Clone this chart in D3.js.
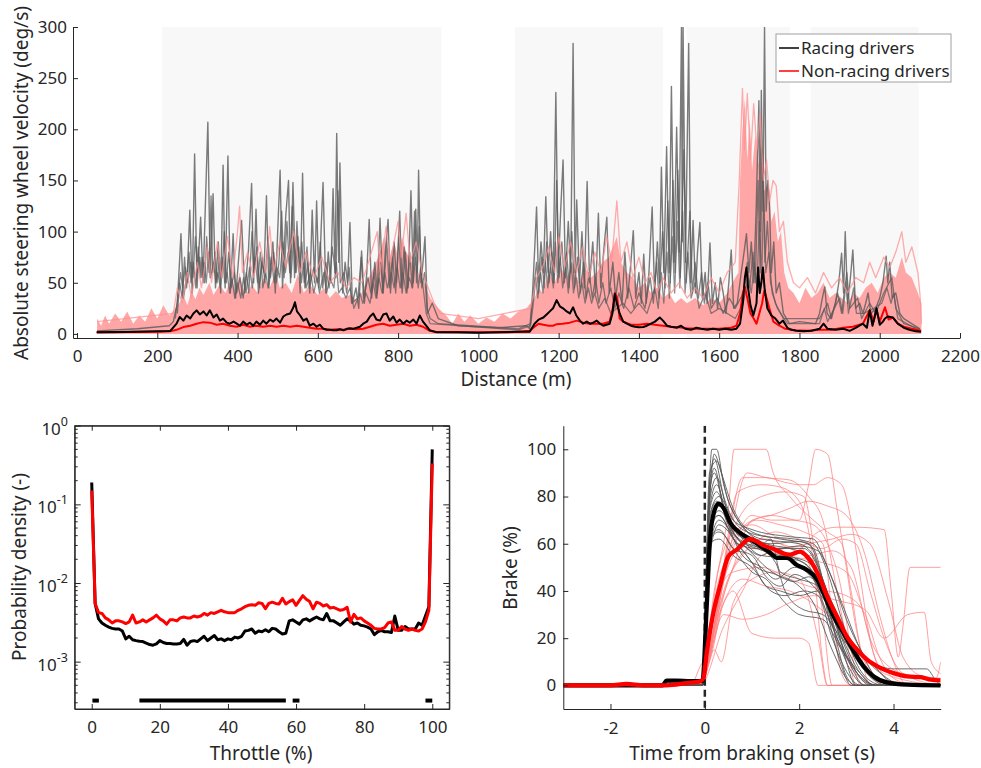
<!DOCTYPE html>
<html>
<head>
<meta charset="utf-8">
<script src="https://cdn.jsdelivr.net/npm/d3@7"></script>
<style>
  body { margin: 0; background: #fff; }
  svg text { font-family: "Noto Sans", sans-serif; fill: #262626; }
</style>
</head>
<body>
<svg id="chart" width="981" height="768"></svg>
<script>
// ---------------- data: top panel (steering wheel velocity vs distance) ----------------
var distTicks = [0, 200, 400, 600, 800, 1000, 1200, 1400, 1600, 1800, 2000, 2200];
var velTicks = [0, 50, 100, 150, 200, 250, 300];
var shadedZones = [[212, 908], [1091, 1460], [1519, 1776], [1828, 2097]];

var racingMean = [[49,1.5],[100,1.8],[150,2.2],[200,2.5],[232,2.8],[248,10],[256,16.5],[265,13],[273,18],[282,15],[290,20],[298,23],[306,19],[315,22],[323,18],[331,23],[340,16],[348,19],[356,13],[364,15],[373,11],[381,10],[390,12],[398,10],[406,8],[414,12],[423,9],[431,11],[439,8],[447,12],[456,9],[464,13],[472,10],[481,14],[489,12],[497,15],[506,11],[514,17],[522,19],[531,20],[538,25],[543,31],[548,22],[556,18],[564,13],[572,15],[580,8],[589,10],[597,7],[605,9],[614,5],[622,4],[630,4],[638,3.5],[647,3.5],[655,4.5],[664,3.5],[672,5],[680,5.5],[689,5],[697,6],[705,7],[713,10],[722,12],[730,17],[738,20],[746,14],[755,13],[763,19],[771,20],[779,13],[788,17],[796,11],[804,14],[813,10],[821,13],[829,11],[838,14],[846,10],[854,18],[862,12],[870,8],[879,3.5],[896,1.5],[950,1.5],[1000,1.2],[1050,1.5],[1090,2],
  [1128,2],[1140,10],[1150,14],[1162,16],[1170,19],[1178,22],[1186,25],[1195,33],[1203,27],[1211,25],[1220,22],[1228,20],[1236,26],[1244,18],[1253,13],[1261,10],[1270,12],[1278,10],[1286,11],[1295,13],[1303,10],[1311,8],[1319,9],[1327,10],[1334,20],[1340,39],[1345,30],[1352,20],[1361,12],[1370,10],[1380,8],[1390,7],[1400,6.5],[1411,6.7],[1420,8],[1430,10],[1440,12],[1452,16],[1460,13],[1470,8],[1480,7],[1494,6],[1505,8],[1515,5],[1530,4],[1543,6],[1555,5],[1570,4],[1585,5],[1600,4],[1615,5],[1630,4],[1643,5],[1652,10],[1659,30],[1664,55],[1668,65],[1672,45],[1678,28],[1685,18],[1693,30],[1697,65],[1701,40],[1705,50],[1709,65],[1713,45],[1720,25],[1730,18],[1740,15],[1750,10],[1759,13],[1770,6],[1780,4],[1792,3],[1810,2.5],[1830,3],[1850,5],[1860,10],[1870,5],[1890,4],[1909,5],[1925,3],[1940,6],[1958,10],[1968,6],[1975,23],[1982,8],[1992,25],[2000,9],[2008,12],[2013,15],[2020,17],[2033,16],[2045,10],[2060,6],[2074,4],[2090,2.5],[2103,2]];

var nonRacingMean = [[49,1.5],[100,1.5],[150,2],[200,2],[232,2.5],[248,4],[265,6.7],[282,8],[298,10],[315,11.5],[331,11],[348,9],[364,10],[381,8],[398,7],[414,9],[431,7],[447,8],[464,7],[481,8],[497,7],[514,8],[531,7],[548,8],[564,7],[580,6],[597,5],[614,5],[630,4],[647,4.5],[664,4],[680,5],[697,4.5],[713,5],[730,7],[746,9],[763,10],[779,8],[796,9],[813,10],[829,8],[846,9],[862,7],[879,3],[896,1.8],[950,1.5],[1000,1.5],[1050,1.5],[1090,1.8],
  [1128,3],[1140,7],[1150,10],[1162,9],[1175,8],[1186,8],[1195,9.5],[1210,10],[1228,11],[1245,13],[1261,11],[1278,10],[1295,10],[1311,10],[1327,12],[1335,25],[1340,40],[1346,35],[1352,15],[1361,12],[1380,9],[1400,9],[1420,10],[1440,9],[1460,8],[1480,7],[1500,6.5],[1520,5.5],[1543,5],[1570,5],[1600,5],[1630,6],[1643,8],[1652,20],[1659,40],[1664,46],[1670,35],[1678,20],[1686,15],[1693,10],[1700,20],[1707,30],[1712,42],[1718,35],[1725,25],[1735,12],[1750,8],[1765,5],[1790,3.5],[1820,3],[1850,4],[1880,4],[1909,6],[1933,7],[1958,10],[1975,23],[1985,12],[1992,23],[2000,12],[2013,26],[2022,14],[2033,16],[2045,10],[2060,7],[2080,5],[2103,3]];

// individual racing drivers, peaks and troughs
var racingPeaksA = [[50,3],[150,5],[230,8],[240,12],[250,30],[259,98],[265,35],[275,60],[281,121],[287,40],[293,176],[299,45],[308,114],[314,50],[326,207],[332,55],[339,137],[345,45],[352,90],[358,40],[364,165],[369,45],[376,174],[382,40],[389,98],[395,35],[402,70],[410,111],[418,40],[427,80],[435,147],[440,50],[446,122],[452,40],[460,70],[466,60],[472,135],[478,45],[488,90],[494,40],[500,100],[506,160],[512,45],[520,115],[527,150],[532,50],[538,148],[544,60],[550,95],[556,40],[562,157],[568,45],[575,70],[580,40],[586,121],[592,50],[597,130],[603,45],[608,100],[613,148],[620,40],[626,80],[632,50],[638,142],[643,60],[647,196],[652,70],[655,167],[662,40],[668,70],[674,50],[680,109],[686,30],[695,45],[702,25],[709,81],[716,30],[722,60],[728,112],[734,35],[742,70],[748,40],[755,113],[762,40],[768,80],[775,112],[781,40],[790,90],[796,50],[804,120],[810,40],[818,80],[825,45],[832,140],[838,50],[844,122],[848,60],[851,160],[857,50],[862,70],[867,95],[873,20],[885,30],[900,15],[950,8],[1050,6],[1120,8],
  [1128,5],[1135,40],[1140,80],[1145,124],[1150,50],[1156,90],[1162,60],[1168,134],[1174,60],[1180,100],[1186,50],[1193,236],[1199,60],[1205,120],[1211,170],[1217,55],[1224,110],[1230,60],[1236,284],[1241,60],[1245,131],[1252,50],[1258,100],[1264,45],[1271,149],[1277,50],[1285,90],[1292,40],[1299,118],[1305,45],[1312,80],[1320,114],[1326,40],[1335,70],[1342,35],[1350,60],[1358,30],[1365,80],[1372,35],[1380,70],[1386,101],[1392,35],[1400,60],[1406,30],[1412,78],[1418,30],[1425,60],[1433,124],[1439,40],[1446,90],[1451,50],[1456,163],[1462,60],[1469,183],[1475,60],[1481,242],[1487,70],[1494,202],[1500,80],[1506,300],[1508,90],[1510,300],[1516,70],[1524,284],[1529,50],[1535,111],[1541,40],[1546,80],[1552,109],[1558,35],[1565,60],[1570,30],[1577,89],[1583,30],[1590,50],[1596,25],[1603,55],[1610,40],[1617,20],[1624,50],[1630,82],[1636,25],[1645,30],
  [1655,60],[1662,80],[1668,98],[1674,60],[1680,90],[1686,50],[1692,120],[1699,228],[1702,100],[1705,238],[1709,120],[1713,300],[1717,120],[1721,150],[1725,131],[1730,60],[1736,90],[1742,40],[1750,50],[1760,20],[1775,10],[1800,12],[1840,10],
  [1850,20],[1857,35],[1863,46],[1869,20],[1878,15],[1890,30],[1898,50],[1905,79],[1910,40],[1914,100],[1920,30],[1927,55],[1933,82],[1940,25],[1950,30],[1958,20],[1965,30],[1971,40],[1978,20],[1990,25],[2000,35],[2008,50],[2016,76],[2020,50],[2025,70],[2031,35],[2040,40],[2050,20],[2060,15],[2100,5]];

var racingPeaksB = [[250,20],[256,50],[262,35],[268,75],[273,45],[279,80],[284,50],[290,70],[296,45],[302,85],[307,55],[312,75],[318,50],[323,95],[329,60],[334,135],[338,60],[344,80],[349,50],[355,75],[361,55],[367,100],[372,50],[378,80],[384,45],[392,60],[398,40],[406,55],[414,35],[422,60],[428,40],[436,100],[441,60],[448,85],[455,45],[462,75],[468,50],[476,95],[482,55],[490,80],[497,50],[503,70],[510,120],[516,55],[523,110],[530,60],[536,125],[542,55],[548,110],[554,60],[560,90],[566,50],[573,85],[579,45],[590,65],[600,50],[606,90],[612,45],[620,70],[628,45],[636,85],[645,55],[650,140],[656,50],[665,60],[672,40],[678,65],[684,30],[700,35],[708,75],[714,35],[725,55],[732,40],[740,60],[747,35],[756,70],[763,40],[772,90],[778,45],[786,75],[794,40],[802,95],[808,45],[815,85],[822,40],[829,80],[835,45],[841,120],[846,50],[853,105],[859,45],[866,60],[872,25],[880,15],[900,10],[1100,5],
  [1130,10],[1138,45],[1145,70],[1150,40],[1158,75],[1164,45],[1170,90],[1176,50],[1183,80],[1189,50],[1195,150],[1201,55],[1208,90],[1214,50],[1220,80],[1226,45],[1233,100],[1239,45],[1247,75],[1254,40],[1262,70],[1268,35],[1276,60],[1284,35],[1292,55],[1300,30],[1310,50],[1318,30],[1330,45],[1340,25],[1350,40],[1362,25],[1375,45],[1388,25],[1400,40],[1415,25],[1428,55],[1436,30],[1444,70],[1450,35],[1459,100],[1465,45],[1472,130],[1478,50],[1485,150],[1490,60],[1497,160],[1503,55],[1512,180],[1518,50],[1527,120],[1533,40],[1540,70],[1548,35],[1556,60],[1563,30],[1572,50],[1580,25],[1595,35],[1610,20],[1625,35],[1640,25],
  [1660,40],[1670,70],[1676,45],[1684,80],[1690,50],[1697,150],[1702,60],[1708,180],[1714,70],[1720,110],[1728,50],[1740,30],[1760,15],[1850,15],[1870,30],[1880,15],[1895,40],[1905,20],[1918,60],[1925,25],[1945,35],[1955,15],[1975,30],[1990,20],[2010,40],[2030,55],[2040,25],[2060,10],[2100,5]];

var racingPeaksC = [[245,15],[252,40],[258,60],[263,45],[270,65],[276,50],[283,70],[289,55],[295,95],[301,60],[306,75],[311,55],[317,70],[322,50],[328,80],[333,55],[340,70],[346,50],[351,60],[357,45],[363,75],[368,50],[374,60],[380,40],[386,55],[393,35],[400,50],[408,35],[415,55],[421,40],[430,65],[437,45],[443,75],[450,50],[457,80],[463,45],[470,60],[476,45],[484,75],[491,50],[498,65],[505,55],[513,90],[519,60],[526,80],[533,55],[540,95],[546,60],[553,85],[559,50],[565,70],[571,45],[582,60],[590,40],[598,55],[604,40],[615,60],[622,40],[630,55],[640,45],[646,70],[652,40],[660,45],[670,35],[680,45],[690,25],[705,40],[712,30],[720,40],[730,30],[738,50],[745,35],[752,55],[760,40],[767,60],[773,45],[783,60],[790,45],[798,65],[805,45],[812,60],[820,40],[828,55],[836,45],[843,75],[850,45],[856,65],[864,40],[870,20],[880,10],[1100,4],
  [1130,8],[1137,30],[1143,55],[1148,35],[1155,60],[1161,40],[1167,70],[1173,45],[1180,65],[1187,45],[1192,90],[1198,50],[1204,75],[1210,45],[1218,65],[1224,40],[1231,70],[1237,40],[1244,55],[1250,35],[1258,50],[1266,30],[1274,45],[1282,30],[1290,40],[1300,25],[1315,35],[1330,20],[1360,30],[1380,20],[1400,30],[1420,20],[1440,45],[1448,25],[1456,60],[1462,30],[1470,80],[1476,35],[1483,95],[1489,40],[1496,110],[1502,45],[1509,120],[1515,40],[1522,80],[1530,35],[1540,50],[1550,25],[1565,40],[1580,20],[1600,25],[1640,15],
  [1660,30],[1672,55],[1680,40],[1688,70],[1694,45],[1700,110],[1706,55],[1711,140],[1716,60],[1724,80],[1732,40],[1745,25],[1770,10],[1850,10],[1862,25],[1870,12],[1900,35],[1908,20],[1916,50],[1922,20],[1935,45],[1942,20],[1960,20],[1985,25],[2005,30],[2018,45],[2028,30],[2035,40],[2045,15],[2100,3]];

// non-racing drivers: dense band (upper edge) and the spikes that stick out of it
var nonRacingBand = [[50,15],[60,8],[70,18],[80,10],[95,20],[110,12],[125,22],[140,10],[155,18],[170,12],[185,25],[200,15],[215,28],[230,18],[245,25],[255,30],[265,38],[275,28],[285,42],[295,34],[305,45],[315,38],[330,50],[340,38],[355,48],[370,40],[385,55],[395,40],[405,60],[412,45],[420,38],[435,48],[450,40],[465,55],[480,45],[495,60],[505,45],[520,50],[535,40],[550,58],[565,40],[580,48],[600,38],[615,45],[630,35],[645,42],[660,35],[680,38],[700,32],[720,50],[740,65],[755,80],[765,95],[775,70],[790,90],[800,75],[810,95],[820,80],[835,70],[850,60],[865,50],[880,35],[900,25],[920,18],[935,10],[950,20],[965,12],[980,18],[1000,10],[1020,16],[1040,12],[1060,20],[1080,15],[1100,22],[1120,25],[1140,35],[1150,45],[1160,40],[1175,60],[1190,50],[1205,65],[1220,55],[1235,70],[1250,50],[1265,65],[1280,55],[1295,60],[1310,70],[1325,75],[1335,85],[1345,95],[1355,70],[1370,60],[1385,55],[1400,45],[1415,50],[1430,40],[1445,45],[1460,35],[1475,40],[1490,30],[1505,35],[1520,30],[1540,35],[1560,28],[1580,35],[1600,30],[1620,40],[1640,55],[1648,60],[1652,150],[1658,200],[1664,230],[1670,170],[1676,210],[1682,160],[1690,195],[1698,165],[1706,190],[1714,140],[1722,150],[1730,110],[1738,120],[1746,90],[1754,100],[1762,60],[1772,45],[1785,40],[1800,30],[1815,45],[1830,35],[1845,40],[1860,50],[1875,35],[1890,40],[1905,35],[1920,30],[1935,40],[1950,35],[1965,45],[1980,50],[1995,40],[2010,55],[2025,60],[2040,55],[2055,75],[2065,60],[2080,55],[2095,40],[2104,30]];

var nonRacingSpikes = [[50,12],[240,20],[250,45],[262,30],[275,60],[285,35],[300,70],[310,45],[325,85],[335,50],[350,90],[360,55],[375,95],[388,55],[400,100],[405,125],[412,60],[425,80],[440,55],[455,90],[470,60],[480,105],[490,60],[505,90],[520,65],[540,100],[555,60],[570,80],[590,55],[610,75],[630,50],[650,60],[670,45],[690,55],[710,50],[730,75],[748,100],[755,60],[770,105],[780,70],[800,110],[808,75],[820,118],[830,70],[845,90],[860,60],[875,45],[890,30],[905,20],[1000,15],[1130,25],[1145,55],[1160,65],[1175,85],[1190,60],[1200,95],[1215,65],[1230,90],[1245,60],[1260,85],[1275,55],[1290,80],[1305,60],[1320,95],[1332,70],[1345,130],[1355,70],[1370,90],[1385,55],[1400,75],[1415,50],[1430,60],[1445,40],[1460,55],[1480,40],[1500,50],[1520,35],[1540,45],[1560,35],[1580,55],[1600,40],[1620,60],[1640,70],[1650,150],[1658,240],[1663,180],[1670,235],[1678,170],[1686,225],[1694,180],[1702,215],[1710,150],[1718,170],[1726,130],[1734,150],[1742,145],[1750,100],[1760,110],[1770,70],[1785,50],[1800,45],[1820,55],[1840,40],[1860,60],[1880,45],[1900,55],[1920,40],[1940,55],[1960,50],[1975,70],[1990,55],[2010,75],[2025,65],[2040,80],[2055,100],[2065,70],[2080,85],[2095,60],[2100,40],[2104,10]];

var legendLabels = ["Racing drivers", "Non-racing drivers"];

// ---------------- data: bottom-left (throttle probability density) ----------------
var throttlePct = [0,1,2,3,4,5,6,7,8,9,10,11,12,13,14,15,16,17,18,19,20,21,22,23,24,25,26,27,28,29,30,31,32,33,34,35,36,37,38,39,40,41,42,43,44,45,46,47,48,49,50,51,52,53,54,55,56,57,58,59,60,61,62,63,64,65,66,67,68,69,70,71,72,73,74,75,76,77,78,79,80,81,82,83,84,85,86,87,88,89,90,91,92,93,94,95,96,97,98,99,100];
var densityRacing = [0.19,5.5e-3,3.5e-3,3.1e-3,2.9e-3,2.75e-3,2.65e-3,2.6e-3,2.6e-3,2.45e-3,1.95e-3,2.1e-3,1.9e-3,1.85e-3,1.82e-3,1.8e-3,1.72e-3,1.65e-3,1.62e-3,1.68e-3,1.85e-3,1.75e-3,1.7e-3,1.7e-3,1.68e-3,1.68e-3,1.7e-3,1.92e-3,1.62e-3,1.8e-3,1.85e-3,1.8e-3,1.95e-3,2.1e-3,1.85e-3,2.0e-3,2.15e-3,1.9e-3,1.95e-3,1.85e-3,1.95e-3,1.9e-3,2.05e-3,2.0e-3,2.1e-3,2.45e-3,2.5e-3,2.6e-3,2.3e-3,2.45e-3,2.4e-3,2.55e-3,2.4e-3,2.65e-3,2.6e-3,2.4e-3,2.25e-3,2.3e-3,3.3e-3,3.4e-3,3.2e-3,3.0e-3,3.4e-3,3.5e-3,3.3e-3,3.5e-3,3.7e-3,3.5e-3,3.4e-3,4.1e-3,3.3e-3,3.3e-3,3.1e-3,2.9e-3,3.2e-3,3.5e-3,3.3e-3,3.0e-3,3.1e-3,2.9e-3,2.85e-3,2.75e-3,2.6e-3,2.2e-3,2.4e-3,2.5e-3,2.4e-3,2.4e-3,2.35e-3,3.8e-3,2.5e-3,2.5e-3,2.8e-3,2.6e-3,2.6e-3,2.6e-3,3.1e-3,2.9e-3,3.8e-3,5.0e-3,0.5];
var densityNonRacing = [0.15,5.5e-3,4.2e-3,4.1e-3,3.6e-3,3.4e-3,3.1e-3,3.3e-3,3.3e-3,3.2e-3,3.05e-3,3.2e-3,3.9e-3,3.1e-3,3.2e-3,3.4e-3,3.2e-3,3.4e-3,3.6e-3,3.9e-3,3.5e-3,3.3e-3,3.0e-3,3.4e-3,3.4e-3,3.3e-3,3.6e-3,3.7e-3,3.6e-3,3.6e-3,3.8e-3,3.7e-3,3.8e-3,4.1e-3,3.9e-3,4.2e-3,4.1e-3,4.3e-3,4.5e-3,4.3e-3,4.2e-3,4.2e-3,4.2e-3,4.5e-3,4.7e-3,5.0e-3,5.2e-3,5.3e-3,5.2e-3,5.6e-3,5.5e-3,4.7e-3,5.5e-3,5.7e-3,5.5e-3,5.4e-3,6.4e-3,5.4e-3,5.8e-3,6.1e-3,5.2e-3,6.0e-3,6.9e-3,6.2e-3,5.8e-3,4.7e-3,5.7e-3,5.5e-3,5.1e-3,5.3e-3,4.8e-3,4.9e-3,4.7e-3,4.5e-3,4.6e-3,4.9e-3,3.2e-3,4.0e-3,3.5e-3,3.6e-3,3.3e-3,3.1e-3,2.9e-3,2.65e-3,2.6e-3,2.6e-3,2.7e-3,3.1e-3,3.2e-3,2.5e-3,2.5e-3,2.8e-3,2.6e-3,2.5e-3,2.6e-3,2.5e-3,2.45e-3,2.6e-3,3.2e-3,4.5e-3,0.33];
var throttleTicks = [0, 20, 40, 60, 80, 100];
var densityTicks = [1e-3, 1e-2, 1e-1, 1];
var significantRanges = [[0.2, 2.1], [14, 57], [59, 61], [98, 100]];
var significanceLevel = 3.2e-4;

// ---------------- data: bottom-right (brake vs time from onset) ----------------
var timeTicks = [-2, 0, 2, 4];
var brakeTicks = [0, 20, 40, 60, 80, 100];
var brakeMeanRacing = [[-3,0],[-0.9,0],[-0.81,2],[-0.6,2],[-0.3,1.8],[-0.05,1.8],[0.04,33.5],[0.11,62],[0.2,73.8],[0.29,77],[0.4,75],[0.54,68.9],[0.75,64.6],[0.96,62],[1.18,59],[1.39,56.1],[1.53,54],[1.74,54],[1.95,51],[2.16,49],[2.38,44.8],[2.52,39],[2.73,29.3],[2.94,22.2],[3.16,14.4],[3.37,8],[3.58,3.8],[3.86,1.3],[4.29,0.3],[5,0]];
var brakeMeanNonRacing = [[-3,0],[-2,0],[-1.66,0.6],[-1.3,0],[-0.81,0],[-0.38,1],[-0.1,1.7],[-0.03,3],[0.04,13.7],[0.18,30.7],[0.32,42],[0.5,54.7],[0.68,57.5],[0.86,61],[0.96,62],[1.1,61],[1.24,59.3],[1.46,57.8],[1.67,55.8],[1.81,55.4],[2.02,56.7],[2.16,54.7],[2.31,50.5],[2.45,44.8],[2.59,37.8],[2.8,29.3],[3.01,20.8],[3.23,15.1],[3.44,10.9],[3.72,7.4],[4.0,5.2],[4.29,3.8],[4.58,3.5],[4.79,2.4],[5,2.1]];
var brakeRacing = [
  [[-3,0],[-0.05,0],[0.05,60],[0.15,100],[0.25,100],[0.4,85],[0.7,70],[1.2,62],[2.0,60],[2.3,55],[2.7,30],[3.1,8],[3.4,0],[5,0]],
  [[-3,0],[-0.05,0],[0.08,70],[0.2,98],[0.35,90],[0.6,75],[1.0,65],[1.6,62],[2.2,60],[2.5,45],[2.9,20],[3.3,3],[3.5,0],[5,0]],
  [[-3,0],[-0.05,0],[0.1,80],[0.2,92],[0.45,70],[0.9,60],[1.4,58],[2.1,58],[2.4,50],[2.8,25],[3.0,10],[3.2,0],[5,0]],
  [[-3,0],[-0.05,0],[0.1,75],[0.25,85],[0.5,68],[0.8,55],[1.2,50],[1.5,45],[1.9,50],[2.3,45],[2.6,30],[3.0,12],[3.4,2],[3.7,0],[5,0]],
  [[-3,0],[-0.05,0],[0.1,65],[0.3,72],[0.6,62],[1.0,52],[1.3,42],[1.6,40],[2.0,38],[2.4,40],[2.8,25],[3.3,5],[3.6,0],[5,0]],
  [[-3,0],[-0.05,0],[0.1,70],[0.25,78],[0.6,66],[1.0,60],[1.5,52],[1.7,40],[2.1,32],[2.5,30],[2.9,20],[3.5,10],[4.0,7],[4.7,7],[4.9,2],[5,0]],
  [[-3,0],[-0.05,0],[0.1,55],[0.3,68],[0.7,60],[1.1,50],[1.5,47],[2.0,42],[2.3,35],[2.7,15],[3.0,3],[3.2,0],[5,0]],
  [[-3,0],[-0.05,0],[0.1,72],[0.3,80],[0.6,70],[1.0,66],[1.8,63],[2.3,62],[2.6,50],[3.0,30],[3.3,15],[3.7,2],[4.0,0],[5,0]],
  [[-3,0],[-0.05,0],[0.12,62],[0.3,65],[0.7,55],[1.0,48],[1.3,45],[1.7,35],[2.0,30],[2.5,28],[2.9,15],[3.3,5],[3.6,0],[5,0]],
  [[-3,0],[-0.05,0],[0.1,90],[0.25,95],[0.5,78],[0.9,65],[1.3,60],[1.8,58],[2.2,55],[2.5,40],[2.7,22],[2.9,8],[3.1,0],[5,0]],
  [[-3,0],[-0.8,0],[-0.7,2],[-0.05,2],[0.1,68],[0.3,72],[0.7,60],[1.1,58],[1.4,62],[1.6,48],[2.0,45],[2.4,42],[2.8,22],[3.2,6],[3.6,0],[5,0]],
  [[-3,0],[-0.05,0],[0.1,78],[0.25,88],[0.5,72],[0.8,62],[1.2,55],[1.7,54],[2.1,52],[2.4,45],[2.8,30],[3.2,12],[3.6,2],[3.9,0],[5,0]],
  [[-3,0],[-0.05,0],[0.1,60],[0.3,62],[0.6,55],[1.0,50],[1.4,40],[1.7,38],[2.1,40],[2.4,38],[2.7,20],[3.0,6],[3.3,0],[5,0]],
  [[-3,0],[-0.05,0],[0.1,82],[0.2,90],[0.4,75],[0.7,62],[1.1,58],[1.6,55],[2.1,53],[2.4,48],[2.7,35],[3.1,18],[3.6,8],[4.0,1],[5,0]],
  [[-3,0],[-0.05,0],[0.1,85],[0.2,96],[0.4,80],[0.8,66],[1.3,63],[1.9,62],[2.3,60],[2.6,48],[2.9,28],[3.2,10],[3.5,2],[3.8,0],[5,0]],
  [[-3,0],[-0.05,0],[0.1,58],[0.3,70],[0.6,64],[0.9,58],[1.2,55],[1.5,58],[1.8,55],[2.2,50],[2.5,42],[2.9,25],[3.3,10],[3.7,3],[4.1,0],[5,0]],
  [[-3,0],[-0.05,0],[0.1,66],[0.3,74],[0.7,62],[1.0,56],[1.3,50],[1.6,46],[1.9,44],[2.2,46],[2.5,38],[2.8,20],[3.1,6],[3.4,0],[5,0]],
  [[-3,0],[-0.05,0],[0.1,74],[0.25,82],[0.5,70],[0.9,62],[1.4,60],[2.0,61],[2.3,58],[2.55,40],[2.8,18],[3.0,4],[3.2,0],[5,0]],
  [[-3,0],[-0.05,0],[0.1,62],[0.3,66],[0.6,58],[1.0,55],[1.3,46],[1.6,42],[1.9,47],[2.2,44],[2.6,34],[3.0,18],[3.4,6],[3.8,1],[5,0]],
  [[-3,0],[-0.05,0],[0.12,68],[0.3,76],[0.7,64],[1.1,60],[1.5,58],[2.0,59],[2.4,57],[2.7,45],[3.0,28],[3.4,12],[3.8,4],[4.2,0],[5,0]]
];
var brakeNonRacing = [
  [[-3,0],[-0.1,0],[0.2,40],[0.5,75],[0.62,100],[1.3,100],[1.45,90],[1.8,80],[2.3,70],[2.6,65],[2.9,60],[3.1,40],[3.3,15],[3.5,0],[5,0]],
  [[-3,0],[-0.1,0],[0.3,45],[0.6,60],[1.0,72],[1.4,70],[2.0,70],[2.2,85],[2.35,100],[2.6,98],[2.8,75],[3.0,50],[3.2,25],[3.5,5],[3.8,0],[5,0]],
  [[-3,0],[-0.1,0],[0.4,50],[0.8,88],[1.3,88],[1.7,86],[2.0,85],[2.3,85],[2.6,88],[2.9,85],[3.1,70],[3.3,45],[3.5,20],[3.8,5],[5,0]],
  [[-3,0],[-0.3,0],[-0.1,8],[0.1,15],[0.4,40],[0.8,55],[1.2,62],[1.6,60],[2.0,58],[2.4,65],[2.8,67],[3.2,67],[3.8,66],[3.95,40],[4.1,12],[4.2,25],[4.35,50],[5,50]],
  [[-3,0],[-0.1,0],[0.3,30],[0.6,40],[1.0,22],[1.5,20],[2.0,20],[2.2,18],[2.4,0],[5,0]],
  [[-3,0],[-0.1,0],[0.2,15],[0.35,10],[0.6,35],[1.0,45],[1.5,48],[2.0,45],[2.4,20],[2.6,0],[5,0]],
  [[-3,0],[-0.1,0],[0.5,60],[0.9,90],[1.3,88],[1.8,87],[2.2,80],[2.5,70],[2.8,40],[3.0,20],[3.2,0],[5,0]],
  [[-3,0],[-0.1,0],[0.3,35],[0.7,70],[1.2,80],[1.7,82],[2.1,80],[2.3,60],[2.5,30],[2.7,0],[5,0]],
  [[-3,0],[-0.2,0],[0.2,20],[0.5,55],[1.0,60],[1.5,65],[2.0,62],[2.5,58],[2.9,62],[3.2,60],[3.5,40],[3.8,20],[4.2,5],[5,0]],
  [[-3,0],[-0.1,0],[0.3,40],[0.6,48],[1.2,50],[1.8,45],[2.2,42],[2.6,40],[3.0,38],[3.4,30],[3.7,12],[4.0,3],[4.5,0],[5,0]],
  [[-3,0],[-0.1,0],[0.2,25],[0.6,50],[1.0,70],[1.4,72],[1.8,75],[2.2,78],[2.6,76],[3.0,72],[3.4,55],[3.7,30],[4.0,10],[4.3,0],[5,0]],
  [[-3,0],[-0.1,0],[0.4,30],[0.8,28],[1.3,30],[1.8,35],[2.3,38],[2.8,36],[3.4,32],[3.8,20],[4.3,30],[4.65,31],[4.8,10],[5,5]],
  [[-3,0],[-0.1,0],[0.3,50],[0.6,65],[1.0,68],[1.5,63],[2.0,60],[2.4,40],[2.8,20],[3.2,5],[3.6,0],[5,0]],
  [[-3,0],[-0.1,0],[0.4,45],[0.8,60],[1.3,62],[1.8,58],[2.2,55],[2.7,57],[3.1,50],[3.5,20],[3.9,8],[4.4,4],[4.9,3],[5,10]],
  [[-3,0],[-0.1,0],[0.25,30],[0.5,52],[0.9,68],[1.4,72],[1.9,70],[2.3,68],[2.6,60],[2.9,40],[3.1,15],[3.3,0],[5,0]],
  [[-3,0],[-0.2,0],[0.1,10],[0.4,35],[0.8,45],[1.3,42],[1.8,40],[2.2,36],[2.6,30],[3.0,22],[3.4,10],[3.8,0],[5,0]],
  [[-3,0],[-0.1,0],[0.3,38],[0.7,82],[1.2,85],[1.6,84],[2.0,78],[2.3,52],[2.5,10],[2.6,0],[5,0]],
  [[-3,0],[-0.1,0],[0.2,20],[0.5,45],[1.0,58],[1.5,56],[2.0,54],[2.5,52],[3.0,48],[3.3,35],[3.6,12],[3.9,2],[5,0]],
  [[-3,0],[-0.1,0],[0.3,42],[0.6,62],[1.1,70],[1.6,68],[2.1,65],[2.5,60],[2.7,30],[2.9,5],[3.1,0],[5,0]],
  [[-3,0],[-0.1,0],[0.4,25],[0.8,40],[1.2,55],[1.7,58],[2.2,60],[2.7,62],[3.1,64],[3.5,60],[3.9,35],[4.2,12],[4.6,4],[5,3]]
];

// ---------------- drawing ----------------
var ink = "#262626";
var fontFamily = '"Noto Sans", sans-serif';
var svg = d3.select("#chart");
var plainNum = function(d) { return String(d); };

function styleAxis(g) {
  g.attr("font-family", fontFamily).attr("font-size", 17);
  g.select(".domain").attr("stroke", ink);
  g.selectAll(".tick line").attr("stroke", ink);
  g.selectAll(".tick text").attr("fill", ink);
}

function drawLine(g, data, x, y, color, width, opacity, curve) {
  var gen = d3.line().x(function(d) { return x(d[0]); }).y(function(d) { return y(d[1]); });
  if (curve) gen.curve(curve);
  g.append("path").datum(data)
    .attr("fill", "none")
    .attr("stroke", color)
    .attr("stroke-width", width)
    .attr("stroke-opacity", opacity)
    .attr("stroke-linejoin", "round")
    .attr("d", gen);
}

// ===== top panel =====
var xTop = d3.scaleLinear().domain([-10, 2200]).range([73, 960]);
var yTop = d3.scaleLinear().domain([-4, 300]).range([338, 27]);

svg.append("clipPath").attr("id", "clipTop")
  .append("rect").attr("x", 73).attr("y", 27).attr("width", 887).attr("height", 311);

var gTop = svg.append("g").attr("clip-path", "url(#clipTop)");

gTop.selectAll("rect.zone").data(shadedZones).enter().append("rect")
  .attr("class", "zone")
  .attr("x", function(d) { return xTop(d[0]); })
  .attr("width", function(d) { return xTop(d[1]) - xTop(d[0]); })
  .attr("y", yTop(300))
  .attr("height", yTop(-4) - yTop(300))
  .attr("fill", "#f8f8f8");

gTop.append("path").datum(nonRacingBand)
  .attr("fill", "#ff9d9d").attr("fill-opacity", 0.9)
  .attr("d", d3.area().x(function(d) { return xTop(d[0]); }).y0(yTop(0)).y1(function(d) { return yTop(d[1]); }));

drawLine(gTop, racingPeaksC, xTop, yTop, "#5a5a5a", 1.3, 0.7);
drawLine(gTop, racingPeaksB, xTop, yTop, "#5a5a5a", 1.3, 0.75);
drawLine(gTop, racingPeaksA, xTop, yTop, "#5a5a5a", 1.4, 0.8);

drawLine(gTop, nonRacingSpikes, xTop, yTop, "#ff9090", 1.3, 0.75);

drawLine(gTop, nonRacingMean, xTop, yTop, "#ff0000", 2, 1);
drawLine(gTop, racingMean, xTop, yTop, "#000000", 2, 1);

var gxTop = svg.append("g").attr("transform", "translate(0,338)")
  .call(d3.axisBottom(xTop).tickValues(distTicks).tickFormat(plainNum).tickSizeInner(-5).tickSizeOuter(0).tickPadding(12));
styleAxis(gxTop);
var gyTop = svg.append("g").attr("transform", "translate(73,0)")
  .call(d3.axisLeft(yTop).tickValues(velTicks).tickFormat(plainNum).tickSizeInner(-5).tickSizeOuter(0).tickPadding(6));
styleAxis(gyTop);

svg.append("text").attr("x", 516).attr("y", 386).attr("text-anchor", "middle")
  .style("font-size", "19px").text("Distance (m)");
svg.append("text").attr("transform", "translate(28,183) rotate(-90)").attr("text-anchor", "middle")
  .style("font-size", "19px").text("Absolute steering wheel velocity (deg/s)");

// legend
var legend = svg.append("g");
legend.append("rect").attr("x", 776).attr("y", 34).attr("width", 175).attr("height", 48)
  .attr("fill", "#fff").attr("stroke", "#a0a0a0").attr("stroke-width", 1);
[["#000000", 48], ["#ff0000", 71]].forEach(function(s, i) {
  legend.append("line").attr("x1", 779).attr("x2", 799).attr("y1", s[1]).attr("y2", s[1])
    .attr("stroke", s[0]).attr("stroke-width", 1.5);
  legend.append("text").attr("x", 801).attr("y", s[1] + 6).style("font-size", "17px").text(legendLabels[i]);
});

// ===== bottom-left panel =====
var xBL = d3.scaleLinear().domain([-5, 105]).range([74.7, 449.3]);
var yBL = d3.scaleLog().domain([2.5e-4, 1]).range([709, 425.7]);

var bl = svg.append("g");
bl.append("rect").attr("x", 74.7).attr("y", 425.7).attr("width", 449.3 - 74.7).attr("height", 709 - 425.7)
  .attr("fill", "none").attr("stroke", ink).attr("stroke-width", 1);

var minorTicks = yBL.ticks().filter(function(v) { return Math.abs(Math.log10(v) - Math.round(Math.log10(v))) > 1e-6; });
bl.selectAll("line.minorL").data(minorTicks).enter().append("line")
  .attr("x1", 74.7).attr("x2", 77.7).attr("y1", yBL).attr("y2", yBL).attr("stroke", ink);
bl.selectAll("line.minorR").data(minorTicks).enter().append("line")
  .attr("x1", 449.3).attr("x2", 446.3).attr("y1", yBL).attr("y2", yBL).attr("stroke", ink);

var gxBL = bl.append("g").attr("transform", "translate(0,709)")
  .call(d3.axisBottom(xBL).tickValues(throttleTicks).tickFormat(plainNum).tickSizeInner(-5).tickSizeOuter(0).tickPadding(12));
styleAxis(gxBL);
var gxBL2 = bl.append("g").attr("transform", "translate(0,425.7)")
  .call(d3.axisTop(xBL).tickValues(throttleTicks).tickSizeInner(-5).tickSizeOuter(0).tickFormat(""));
styleAxis(gxBL2);
var gyBL = bl.append("g").attr("transform", "translate(74.7,0)")
  .call(d3.axisLeft(yBL).tickValues(densityTicks).tickSizeInner(-6).tickSizeOuter(0).tickFormat(""));
styleAxis(gyBL);
var gyBL2 = bl.append("g").attr("transform", "translate(449.3,0)")
  .call(d3.axisRight(yBL).tickValues(densityTicks).tickSizeInner(-6).tickSizeOuter(0).tickFormat(""));
styleAxis(gyBL2);

var logLabels = bl.selectAll("text.loglab").data(densityTicks).enter().append("text")
  .attr("class", "loglab")
  .attr("x", 68).attr("y", function(d) { return yBL(d) + 9; })
  .attr("text-anchor", "end").style("font-size", "17px");
logLabels.append("tspan").text("10");
logLabels.append("tspan").attr("dy", -9).style("font-size", "12.5px")
  .text(function(d) { return String(Math.round(Math.log10(d))); });

bl.selectAll("line.sig").data(significantRanges).enter().append("line")
  .attr("x1", function(d) { return xBL(d[0]); }).attr("x2", function(d) { return xBL(d[1]); })
  .attr("y1", yBL(significanceLevel)).attr("y2", yBL(significanceLevel))
  .attr("stroke", "#000").attr("stroke-width", 4);

var racingDensity = throttlePct.map(function(t, i) { return [t, densityRacing[i]]; });
var nonRacingDensity = throttlePct.map(function(t, i) { return [t, densityNonRacing[i]]; });
drawLine(bl, racingDensity, xBL, yBL, "#000000", 3, 1);
drawLine(bl, nonRacingDensity, xBL, yBL, "#ff0000", 3, 1);

bl.append("text").attr("x", 261).attr("y", 760).attr("text-anchor", "middle")
  .style("font-size", "19px").text("Throttle (%)");
bl.append("text").attr("transform", "translate(26,567) rotate(-90)").attr("text-anchor", "middle")
  .style("font-size", "19px").text("Probability density (-)");

// ===== bottom-right panel =====
var xBR = d3.scaleLinear().domain([-3, 5]).range([563.3, 940.7]);
var yBR = d3.scaleLinear().domain([-10, 110]).range([709, 425.7]);

var br = svg.append("g");
svg.append("clipPath").attr("id", "clipBR")
  .append("rect").attr("x", 563.3).attr("y", 425.7).attr("width", 377.4).attr("height", 283.3);
var brPlot = br.append("g").attr("clip-path", "url(#clipBR)");

brakeNonRacing.forEach(function(tr) { drawLine(brPlot, tr, xBR, yBR, "#ff8080", 1, 0.75, d3.curveMonotoneX); });
brakeRacing.forEach(function(tr) { drawLine(brPlot, tr, xBR, yBR, "#555555", 1, 0.85, d3.curveMonotoneX); });

brPlot.append("line").attr("x1", xBR(0)).attr("x2", xBR(0)).attr("y1", yBR(110)).attr("y2", yBR(-10))
  .attr("stroke", ink).attr("stroke-width", 2.5).attr("stroke-dasharray", "7,4");

drawLine(brPlot, brakeMeanRacing, xBR, yBR, "#000000", 4.3, 1, d3.curveMonotoneX);
drawLine(brPlot, brakeMeanNonRacing, xBR, yBR, "#ff0000", 4.3, 1, d3.curveMonotoneX);

var gxBR = br.append("g").attr("transform", "translate(0,709)")
  .call(d3.axisBottom(xBR).tickValues(timeTicks).tickFormat(plainNum).tickSizeInner(-5).tickSizeOuter(0).tickPadding(13));
styleAxis(gxBR);
var gyBR = br.append("g").attr("transform", "translate(563.3,0)")
  .call(d3.axisLeft(yBR).tickValues(brakeTicks).tickFormat(plainNum).tickSizeInner(-5).tickSizeOuter(0).tickPadding(7));
styleAxis(gyBR);

br.append("text").attr("x", 752).attr("y", 760).attr("text-anchor", "middle")
  .style("font-size", "19px").text("Time from braking onset (s)");
br.append("text").attr("transform", "translate(517,568) rotate(-90)").attr("text-anchor", "middle")
  .style("font-size", "19px").text("Brake (%)");
</script>
</body>
</html>
